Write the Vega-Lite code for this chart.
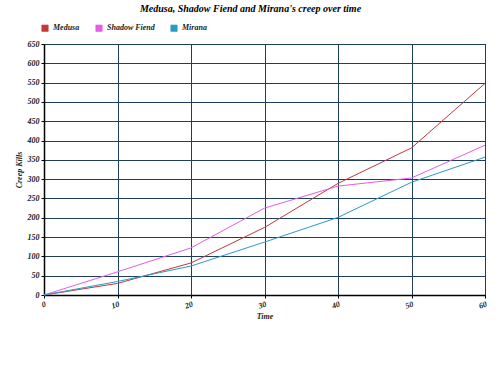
{
  "$schema": "https://vega.github.io/schema/vega-lite/v6.json",
  "width": 441,
  "height": 251,
  "autosize": "none",
  "padding": {"left": 44, "top": 44, "right": 15, "bottom": 73},
  "background": "white",
  "title": {
    "text": "Medusa, Shadow Fiend and Mirana's creep over time",
    "font": "Liberation Serif",
    "fontSize": 10,
    "fontWeight": "bold",
    "fontStyle": "italic",
    "color": "#000000",
    "anchor": "middle",
    "dx": -14,
    "offset": 16,
    "dy": 6
  },
  "config": {
    "view": {"stroke": "#000000", "strokeWidth": 1},
    "axis": {
      "labelFont": "Liberation Serif",
      "labelFontSize": 8,
      "labelFontWeight": "bold",
      "labelFontStyle": "italic",
      "labelColor": "#222222",
      "titleFont": "Liberation Serif",
      "titleFontSize": 8,
      "titleFontWeight": "bold",
      "titleFontStyle": "italic",
      "titleColor": "#222222",
      "domainColor": "#000000",
      "domainWidth": 1.5,
      "tickColor": "#000000",
      "tickSize": 3,
      "gridColor": "#1f3d5c",
      "gridOpacity": 1,
      "gridWidth": 1
    },
    "legend": {
      "labelFont": "Liberation Serif",
      "labelFontSize": 8,
      "labelFontWeight": "bold",
      "labelFontStyle": "italic",
      "labelColor": "#222222"
    }
  },
  "data": {
    "values": [
      {"hero": "Medusa", "time": 0, "kills": 0},
      {"hero": "Medusa", "time": 10, "kills": 30},
      {"hero": "Medusa", "time": 20, "kills": 83},
      {"hero": "Medusa", "time": 30, "kills": 175},
      {"hero": "Medusa", "time": 40, "kills": 289},
      {"hero": "Medusa", "time": 50, "kills": 381},
      {"hero": "Medusa", "time": 60, "kills": 548},
      {"hero": "Shadow Fiend", "time": 0, "kills": 0},
      {"hero": "Shadow Fiend", "time": 10, "kills": 60},
      {"hero": "Shadow Fiend", "time": 20, "kills": 122},
      {"hero": "Shadow Fiend", "time": 30, "kills": 225},
      {"hero": "Shadow Fiend", "time": 40, "kills": 282},
      {"hero": "Shadow Fiend", "time": 50, "kills": 303},
      {"hero": "Shadow Fiend", "time": 60, "kills": 388},
      {"hero": "Mirana", "time": 0, "kills": 0},
      {"hero": "Mirana", "time": 10, "kills": 35},
      {"hero": "Mirana", "time": 20, "kills": 75},
      {"hero": "Mirana", "time": 30, "kills": 137},
      {"hero": "Mirana", "time": 40, "kills": 201},
      {"hero": "Mirana", "time": 50, "kills": 292},
      {"hero": "Mirana", "time": 60, "kills": 357}
    ]
  },
  "mark": {"type": "line", "strokeWidth": 1},
  "encoding": {
    "x": {
      "field": "time",
      "type": "quantitative",
      "title": "Time",
      "scale": {"domain": [0, 60], "nice": false},
      "axis": {"values": [0, 10, 20, 30, 40, 50, 60], "labelAngle": -20, "titlePadding": 2, "labelPadding": 2}
    },
    "y": {
      "field": "kills",
      "type": "quantitative",
      "title": "Creep Kills",
      "scale": {"domain": [0, 650], "nice": false},
      "axis": {"values": [0, 50, 100, 150, 200, 250, 300, 350, 400, 450, 500, 550, 600, 650], "titlePadding": 4, "labelPadding": 2}
    },
    "color": {
      "field": "hero",
      "type": "nominal",
      "scale": {
        "domain": ["Medusa", "Shadow Fiend", "Mirana"],
        "range": ["#c0393b", "#e55ce8", "#2a9ac8"]
      },
      "legend": {
        "title": null,
        "orient": "none",
        "direction": "horizontal",
        "legendX": -3,
        "legendY": -20,
        "symbolType": "square",
        "symbolSize": 40,
        "symbolStrokeColor": "#333333",
        "symbolStrokeWidth": 0.7,
        "columnPadding": 14,
        "encode": {
          "symbols": {
            "update": {
              "fill": {"field": "value", "scale": "color"},
              "fillOpacity": {"value": 1},
              "stroke": {"value": "#333333"},
              "strokeWidth": {"value": 0.7}
            }
          }
        }
      }
    }
  }
}
